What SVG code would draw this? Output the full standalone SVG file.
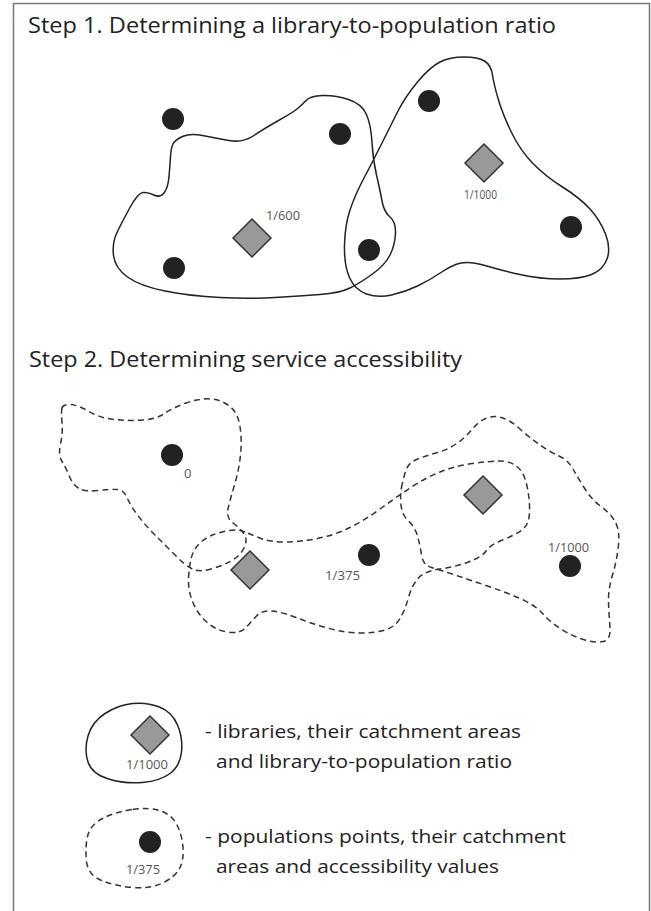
<svg xmlns="http://www.w3.org/2000/svg" width="651" height="911" viewBox="0 0 651 911">
<style>
.title{font-family:"Open Sans","Liberation Sans",sans-serif;font-size:21px;fill:#222}
.leg{font-family:"Open Sans","Liberation Sans",sans-serif;font-size:19px;fill:#222}
.lbl{font-family:"Open Sans","Liberation Sans",sans-serif;font-size:13px;fill:#555}
.solid{fill:none;stroke:#222;stroke-width:1.5}
.dash{fill:none;stroke:#333;stroke-width:1.5;stroke-dasharray:6 4}
.dot{fill:#222}
.lib{fill:#999;stroke:#333;stroke-width:1.5}
.frame{fill:none;stroke:#777;stroke-width:1.5}
</style>
<defs>
<path id="diamond" d="M0,-19 L19,0 L0,19 L-19,0 Z"/>
</defs>
<rect width="651" height="911" fill="#fff"/>
<path class="frame" d="M13.5,911 L13.5,3.5 L649.5,3.5 L649.5,911"/>

<g id="step1">
<text class="title" x="28" y="33" textLength="528" lengthAdjust="spacingAndGlyphs">Step 1. Determining a library-to-population ratio</text>
<g id="catchment-lib1">
<path class="solid" d="M173,144 Q175,140 182.5,136.5 Q190,133 202.5,135.5 Q215,138 229,140.5 Q243,143 254,135.5 Q265,128 278.5,120.5 Q292,113 297,109 Q302,105 306,100.5 Q310,96 322.5,95.5 Q335,95 348.5,99.5 Q362,104 366.5,114.5 Q371,125 372,142.5 Q373,160 376.5,175 Q380,190 382,201 Q384,212 390,217 Q396,222 395.5,233.5 Q395,245 390,255 Q385,265 372.5,274 Q360,283 350,288 Q340,293 320,294.5 Q300,296 275,297.5 Q250,299 220,297.5 Q190,296 165,291 Q140,286 127.5,277 Q115,268 113.5,255.5 Q112,243 117,232.5 Q122,222 130,207.5 Q138,193 143,192.5 Q148,192 154,195 Q160,198 164,193 Q168,188 169,176.5 Q170,165 170.5,156.5 Q171,148 173,144 Z"/>
</g>
<g id="catchment-lib2">
<path class="solid" d="M417.5,82 Q430,67 440,62 Q450,57 464,57 Q478,57 484.5,61 Q491,65 492.5,75 Q494,85 498.5,100 Q503,115 511.5,132.5 Q520,150 532.5,163 Q545,176 562.5,187 Q580,198 590,209 Q600,220 605.5,234 Q611,248 607,259 Q603,270 591.5,274.5 Q580,279 560,279 Q540,279 520,274.5 Q500,270 485,265.5 Q470,261 461,263 Q452,265 441,272.5 Q430,280 417.5,286 Q405,292 391.5,295 Q378,298 366.5,294 Q355,290 349.5,277.5 Q344,265 344.5,245 Q345,225 350,210 Q355,195 363.5,179 Q372,163 381,145 Q390,127 397.5,112 Q405,97 417.5,82 Z"/>
</g>
<g id="pop1-a"><circle class="dot" cx="173" cy="119" r="11"/></g>
<g id="pop1-b"><circle class="dot" cx="340" cy="134" r="11"/></g>
<g id="pop1-c"><circle class="dot" cx="174" cy="268" r="11"/></g>
<g id="pop1-d"><circle class="dot" cx="369" cy="250" r="11"/></g>
<g id="pop1-e"><circle class="dot" cx="429" cy="101" r="11"/></g>
<g id="pop1-f"><circle class="dot" cx="571" cy="227" r="11"/></g>
<g id="lib1">
<use href="#diamond" class="lib" x="252" y="238"/>
<text class="lbl" x="266" y="220" textLength="34" lengthAdjust="spacingAndGlyphs">1/600</text>
</g>
<g id="lib2">
<use href="#diamond" class="lib" x="484" y="163"/>
<text class="lbl" x="464" y="199" textLength="33" lengthAdjust="spacingAndGlyphs">1/1000</text>
</g>
</g>

<g id="step2">
<text class="title" x="29" y="367" textLength="433" lengthAdjust="spacingAndGlyphs">Step 2. Determining service accessibility</text>
<g id="catchment-pop0">
<path class="dash" d="M62,408 Q63,404 70.5,404.5 Q78,405 89,411.5 Q100,418 114,419.5 Q128,421 142.5,420 Q157,419 164.5,413.5 Q172,408 186,403 Q200,398 211,399 Q222,400 230,406.5 Q238,413 240,426.5 Q242,440 240.5,455 Q239,470 234.5,485 Q230,500 228,509 Q226,518 233,523 Q240,528 244,534 Q248,540 244,548 Q240,556 231,561 Q222,566 211,569 Q200,572 193.5,569.5 Q187,567 176,556 Q165,545 155,535 Q145,525 137.5,515 Q130,505 127,497.5 Q124,490 118,489.5 Q112,489 98.5,490.5 Q85,492 79,488.5 Q73,485 69.5,476.5 Q66,468 62,461.5 Q58,455 60.5,444 Q63,433 62,422.5 Q61,412 62,408 Z"/>
</g>
<g id="catchment-pop375">
<path class="dash" d="M245,532 Q238,529 229,530.5 Q220,532 212.5,535 Q205,538 199,544 Q193,550 191,559 Q189,568 188.5,579 Q188,590 192.5,601.5 Q197,613 206,621.5 Q215,630 227.5,632 Q240,634 245.5,628 Q251,622 256.5,616 Q262,610 272,611 Q282,612 296,617.5 Q310,623 327.5,628 Q345,633 360,633 Q375,633 385,630 Q395,627 400,618.5 Q405,610 408.5,597.5 Q412,585 418.5,578 Q425,571 440,569 Q455,567 468.5,562 Q482,557 486,551 Q490,545 502.5,540 Q515,535 522,530 Q529,525 529.5,512.5 Q530,500 527,486 Q524,472 517,466.5 Q510,461 500,461 Q490,461 472.5,463.5 Q455,466 440,472 Q425,478 410,488 Q395,498 380,509 Q365,520 350,527.5 Q335,535 317.5,538.5 Q300,542 285,542 Q270,542 261,538.5 Q252,535 245,532 Z"/>
</g>
<g id="catchment-pop1000">
<path class="dash" d="M401.5,487.5 Q403,480 405.5,471.5 Q408,463 416.5,459.5 Q425,456 436,453 Q447,450 456,444 Q465,438 471.5,430 Q478,422 485.5,418.5 Q493,415 501.5,417.5 Q510,420 520,429 Q530,438 540,445 Q550,452 559,456 Q568,460 573,469 Q578,478 585,489 Q592,500 601,506.5 Q610,513 615,521.5 Q620,530 618.5,545 Q617,560 612.5,575 Q608,590 608.5,602.5 Q609,615 610,627.5 Q611,640 603,641.5 Q595,643 583.5,639.5 Q572,636 561,629 Q550,622 542.5,613.5 Q535,605 520,598.5 Q505,592 487.5,586 Q470,580 455,575 Q440,570 431.5,567.5 Q423,565 421.5,555 Q420,545 417.5,536 Q415,527 408.5,521 Q402,515 401,505 Q400,495 401.5,487.5 Z"/>
</g>
<g id="pop2-0">
<circle class="dot" cx="172" cy="455" r="11"/>
<text class="lbl" x="184" y="478" font-size="11">0</text>
</g>
<g id="pop2-375">
<circle class="dot" cx="369" cy="555" r="11"/>
<text class="lbl" x="325" y="580" textLength="35" lengthAdjust="spacingAndGlyphs">1/375</text>
</g>
<g id="pop2-1000">
<circle class="dot" cx="570" cy="566" r="11"/>
<text class="lbl" x="548" y="552" textLength="41" lengthAdjust="spacingAndGlyphs">1/1000</text>
</g>
<g id="lib2-a"><use href="#diamond" class="lib" x="250" y="570"/></g>
<g id="lib2-b"><use href="#diamond" class="lib" x="483" y="495"/></g>
</g>

<g id="legend">
<g id="legend-library">
<path class="solid" d="M132.5,703.5 Q147,702 159.5,707 Q172,712 177.5,725 Q183,738 181.5,752 Q180,766 170,773.5 Q160,781 142.5,782.5 Q125,784 108.5,779 Q92,774 88,762 Q84,750 88,736 Q92,722 105,713.5 Q118,705 132.5,703.5 Z"/>
<use href="#diamond" class="lib" x="150" y="735"/>
<text class="lbl" x="126" y="769" textLength="42" lengthAdjust="spacingAndGlyphs">1/1000</text>
<text class="leg" x="205" y="738" textLength="316" lengthAdjust="spacingAndGlyphs">- libraries, their catchment areas</text>
<text class="leg" x="216" y="768" textLength="296" lengthAdjust="spacingAndGlyphs">and library-to-population ratio</text>
</g>
<g id="legend-population">
<path class="dash" d="M132.5,809.5 Q150,807 161,811 Q172,815 177,825 Q182,835 183,847.5 Q184,860 179.5,868.5 Q175,877 162.5,883 Q150,889 132.5,887.5 Q115,886 101.5,880.5 Q88,875 86.5,861.5 Q85,848 87.5,836.5 Q90,825 102.5,818.5 Q115,812 132.5,809.5 Z"/>
<circle class="dot" cx="150" cy="842" r="11"/>
<text class="lbl" x="126" y="874" textLength="34" lengthAdjust="spacingAndGlyphs">1/375</text>
<text class="leg" x="205" y="843" textLength="361" lengthAdjust="spacingAndGlyphs">- populations points, their catchment</text>
<text class="leg" x="216" y="873" textLength="283" lengthAdjust="spacingAndGlyphs">areas and accessibility values</text>
</g>
</g>
</svg>
